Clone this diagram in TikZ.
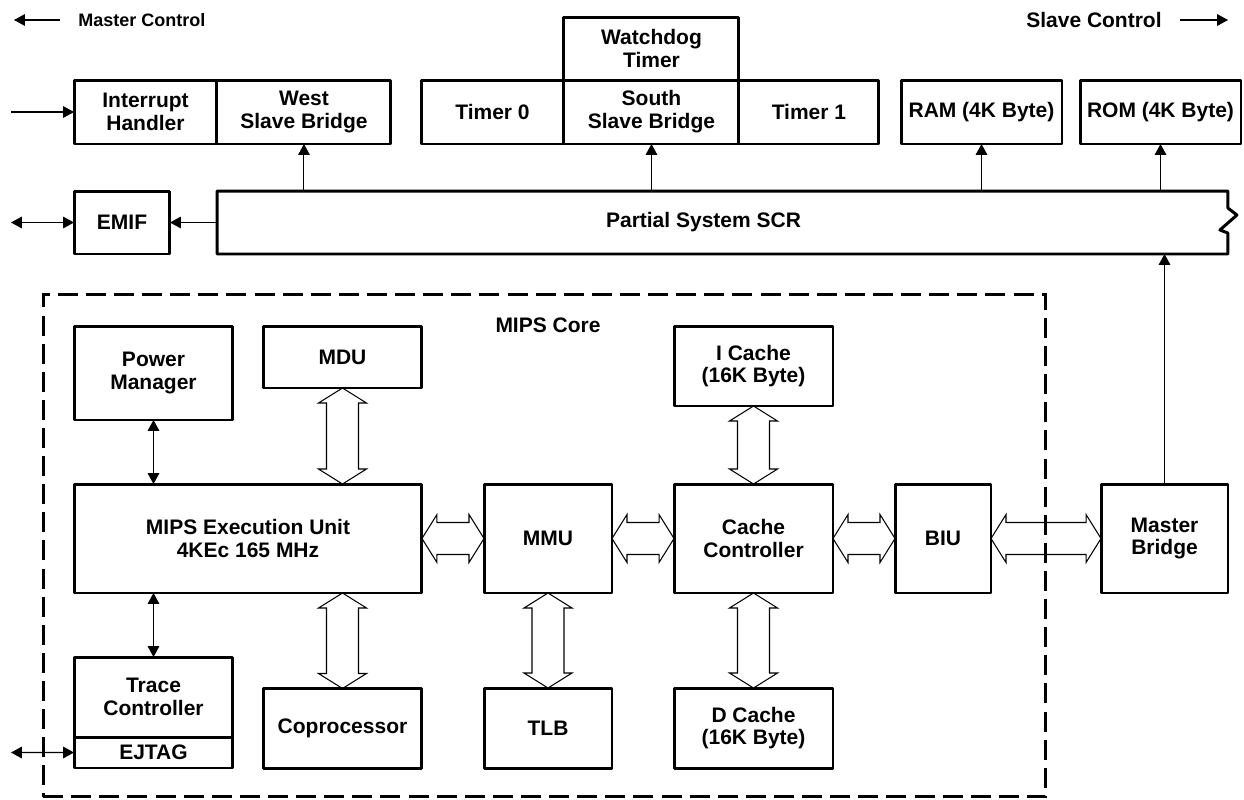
\documentclass[tikz,border=0pt]{standalone}
\usepackage{fontspec}
\setmainfont{Liberation Sans}
\usetikzlibrary{positioning, arrows.meta, calc}
\tikzset{
  block/.style={
    draw,
    rectangle,
    line width=1.7pt,
    line join=round,
    inner sep=0pt,
    outer sep=0pt,
    align=center,
    font=\fontsize{11.95}{13}\selectfont\bfseries
  },
  sig/.style={
    line width=0.6pt,
    >={Triangle[length=6.2pt,width=6.6pt]}
  },
  bus/.style={
    draw,
    line width=0.6pt,
    to path={
      -- ($(\tikztostart)!0.3cm!(\tikztotarget)!0.48cm!90:(\tikztotarget)$)
      -- ($(\tikztostart)!0.3cm!(\tikztotarget)!0.32cm!90:(\tikztotarget)$)
      -- ($(\tikztotarget)!0.3cm!(\tikztostart)!0.32cm!-90:(\tikztostart)$)
      -- ($(\tikztotarget)!0.3cm!(\tikztostart)!0.48cm!-90:(\tikztostart)$)
      -- (\tikztotarget)
      -- ($(\tikztotarget)!0.3cm!(\tikztostart)!0.48cm!90:(\tikztostart)$)
      -- ($(\tikztotarget)!0.3cm!(\tikztostart)!0.32cm!90:(\tikztostart)$)
      -- ($(\tikztostart)!0.3cm!(\tikztotarget)!0.32cm!-90:(\tikztotarget)$)
      -- ($(\tikztostart)!0.3cm!(\tikztotarget)!0.48cm!-90:(\tikztotarget)$)
      -- cycle
    }
  },
  core/.style={
    draw,
    line width=1.7pt,
    dash pattern=on 11.4pt off 4.6pt,
    inner sep=0pt,
    outer sep=0pt
  },
  ctrl/.style={
    font=\fontsize{11.95}{13}\selectfont\bfseries,
    inner sep=0pt
  }
}

\begin{document}
\begin{tikzpicture}[x=0.02cm, y=-0.02cm]
        \useasboundingbox (0,0) rectangle (1244,799);

        % top row
        \node[block, minimum width=2.86cm, minimum height=1.28cm] (irq) at (145.5,112) {Interrupt\\Handler};
        \node[block, minimum width=3.48cm, minimum height=1.28cm, right=0pt of irq] (wsb) {West\\Slave Bridge};
        \node[block, minimum width=2.86cm, minimum height=1.28cm] (tmr0) at (492.5,112) {Timer 0};
        \node[block, minimum width=3.5cm, minimum height=1.28cm, right=0pt of tmr0] (ssb) {South\\Slave Bridge};
        \node[block, minimum width=2.8cm, minimum height=1.28cm, right=0pt of ssb] (tmr1) {Timer 1};
        \node[block, minimum width=3.5cm, minimum height=1.26cm, above=0pt of ssb] (wdt) {Watchdog\\Timer};
        \node[block, minimum width=3.22cm, minimum height=1.28cm] (ram) at (981.5,112) {RAM (4K Byte)};
        \node[block, minimum width=3.22cm, minimum height=1.28cm] (rom) at (1160.5,112) {ROM (4K Byte)};

        \node[ctrl, font=\fontsize{10.24}{12}\selectfont\bfseries, anchor=west] (mctl) at (78,20) {Master Control};
        \node[ctrl, anchor=east] (sctl) at (1162,20) {Slave Control};
        \coordinate (mcA) at (60,20);
        \coordinate (mcB) at (14,20);
        \coordinate (scA) at (1180,20);
        \coordinate (scB) at (1228,20);
        \draw[sig, ->] (mcA) -- (mcB);
        \draw[sig, ->] (scA) -- (scB);

        % system bus
        \node[block, minimum width=1.92cm, minimum height=1.26cm] (emif) at (122,222.5) {EMIF};
        \node[minimum width=20.22cm, minimum height=1.26cm, inner sep=0pt, outer sep=0pt] (scr) at (722.5,222.5) {};
        \draw[line width=1.7pt, line join=round] (scr.north west) -- (scr.north east) -- ++(0,17) -- ++(9,7) -- ++(-17,15) -- ++(8,3) -- (scr.south east) -- (scr.south west) -- cycle;
        \node[ctrl] (scrtext) at ([xshift=-0.38cm]scr.center) {Partial System SCR};

        \coordinate (irqin) at (11,112);
        \coordinate (emifio) at (11,222.5);
        \draw[sig, ->] (irqin) -- (irq.west);
        \draw[sig, <->] (emifio) -- (emif.west);
        \draw[sig, ->] (scr.west) -- (emif.east);
        \draw[sig, ->] (wsb.south |- scr.north) -- (wsb.south);
        \draw[sig, ->] (ssb.south |- scr.north) -- (ssb.south);
        \draw[sig, ->] (ram.south |- scr.north) -- (ram.south);
        \draw[sig, ->] (rom.south |- scr.north) -- (rom.south);

        % MIPS core
        \node[core, minimum width=20.06cm, minimum height=10.06cm] (core) at (544.5,545.5) {};
        \node[ctrl] (corelabel) at (548,325) {MIPS Core};

        \node[block, minimum width=3.18cm, minimum height=1.88cm] (pwr) at (153.5,373) {Power\\Manager};
        \node[block, minimum width=3.18cm, minimum height=1.24cm] (mdu) at (342.5,357) {MDU};
        \node[block, minimum width=6.96cm, minimum height=2.18cm] (exec) at (248,538.5) {MIPS Execution Unit\\4KEc 165 MHz};
        \node[block, minimum width=2.56cm, minimum height=2.18cm] (mmu) at (548,538.5) {MMU};
        \node[block, minimum width=3.18cm, minimum height=2.18cm] (cctl) at (753.5,538.5) {Cache\\Controller};
        \node[block, minimum width=1.92cm, minimum height=2.18cm] (biu) at (943,538.5) {BIU};
        \node[block, minimum width=2.54cm, minimum height=2.18cm] (mbr) at (1164.5,538.5) {Master\\Bridge};
        \node[block, minimum width=3.18cm, minimum height=1.6cm] (icache) at (753.5,366) {I Cache\\(16K Byte)};
        \node[block, minimum width=3.18cm, minimum height=1.6cm] (dcache) at (753.5,728) {D Cache\\(16K Byte)};
        \node[block, minimum width=2.56cm, minimum height=1.6cm] (tlb) at (548,728) {TLB};
        \node[block, minimum width=3.18cm, minimum height=1.6cm] (copro) at (342.5,728.5) {Coprocessor};
        \node[block, minimum width=3.18cm, minimum height=1.6cm] (trace) at (153.5,697) {Trace\\Controller};
        \node[block, minimum width=3.18cm, minimum height=0.62cm, below=0pt of trace] (ejtag) {EJTAG};

        \draw[sig, <->] (pwr.south) -- (pwr.south |- exec.north);
        \draw[sig, <->] (trace.north) -- (trace.north |- exec.south);
        \coordinate (jtagio) at (11,752.5);
        \draw[sig, <->] (jtagio) -- (ejtag.west);
        \draw[sig, ->] (mbr.north) -- (mbr.north |- scr.south);

        \draw[bus] (exec.east) to (mmu.west);
        \draw[bus] (mmu.east) to (cctl.west);
        \draw[bus] (cctl.east) to (biu.west);
        \draw[bus] (biu.east) to (mbr.west);
        \draw[bus] (mdu.south) to (mdu.south |- exec.north);
        \draw[bus] (copro.north) to (copro.north |- exec.south);
        \draw[bus] (tlb.north) to (mmu.south);
        \draw[bus] (icache.south) to (cctl.north);
        \draw[bus] (cctl.south) to (dcache.north);
      \end{tikzpicture}
\end{document}
